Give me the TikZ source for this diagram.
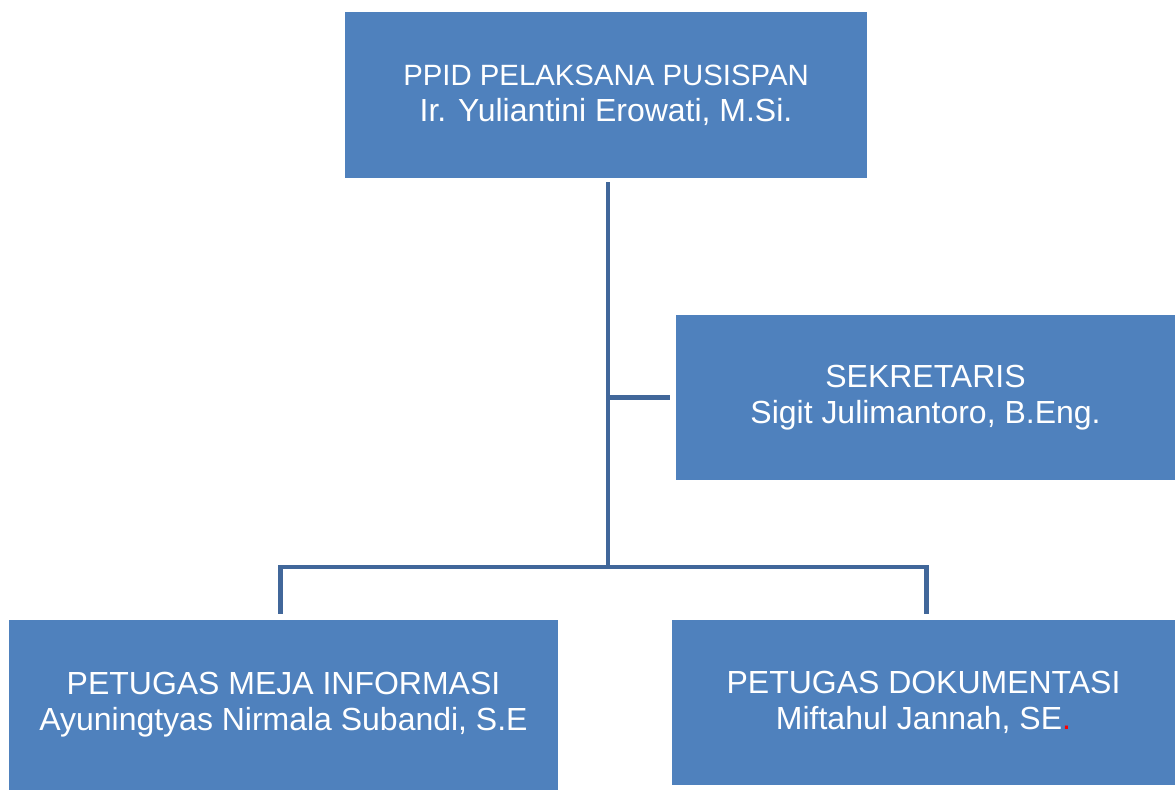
\documentclass[tikz,border=0pt]{standalone}
\usepackage{fontspec}
\setmainfont{Liberation Sans}
\usepackage{xcolor}
\usetikzlibrary{positioning, calc}

\definecolor{boxblue}{HTML}{4F81BD}
\definecolor{lineblue}{HTML}{41679A}

\begin{document}
\begin{tikzpicture}[x=0.02cm, y=-0.02cm,
    unit/.style={draw=none, fill=boxblue, text=white, align=center,
      inner sep=0pt, font=\fontsize{18.2}{20.4}\selectfont},
    link/.style={draw=lineblue, line width=2.8pt, line cap=rect}]
  \useasboundingbox (0,0) rectangle (1175,790);

  % Boxes
  \node[unit, minimum width=10.44cm, minimum height=3.32cm] (ppid) at (606,95)
    {{\fontsize{16.7}{20.4}\selectfont PPID PELAKSANA PUSISPAN}\\Ir. Yuliantini Erowati, M.Si.};
  \node[unit, minimum width=9.98cm, minimum height=3.3cm] (sek) at (925.5,397.5)
    {SEKRETARIS\\Sigit Julimantoro, B.Eng.};
  \node[unit, minimum width=10.98cm, minimum height=3.4cm] (meja) at (283.5,705)
    {PETUGAS MEJA INFORMASI\\Ayuningtyas Nirmala Subandi, S.E};
  \node[unit, minimum width=10.06cm, minimum height=3.3cm] (dok) at (923.5,702.5)
    {PETUGAS DOKUMENTASI\\Miftahul Jannah, SE{\color{red}.}};

  % Junction on the trunk
  \coordinate (hub) at (608,567);

  % Trunk and side branch
  \draw[link, shorten <=3.7pt] (ppid.south -| hub) -- (hub);
  \draw[link, shorten >=4.8pt] (hub |- sek.west) -- (sek.west);

  % Crossbar and drops
  \draw[link] ($(meja.north)+(-3,-8.5)$) |- (hub) -| ($(dok.north)+(3,-8.5)$);
\end{tikzpicture}
\end{document}
